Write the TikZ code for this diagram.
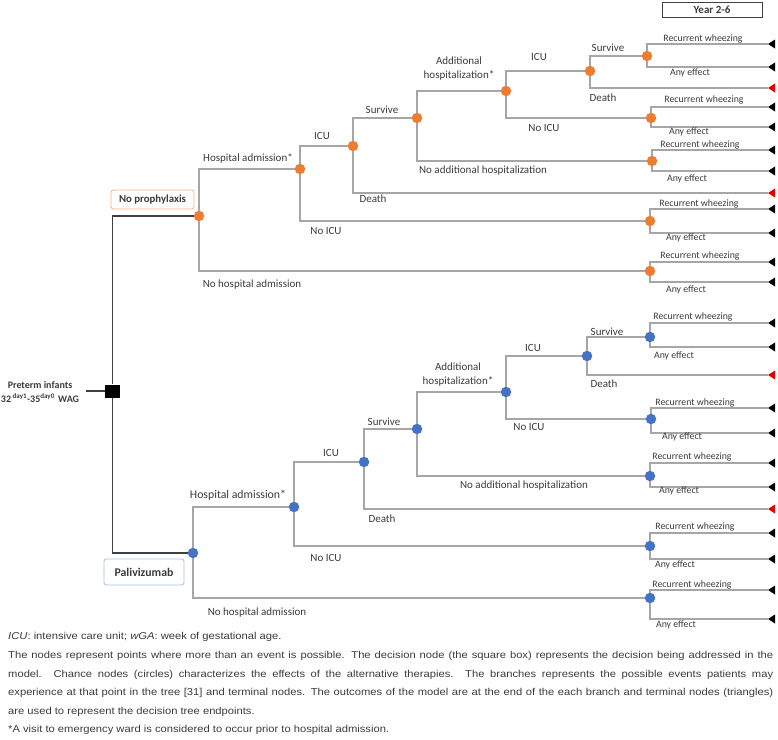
\documentclass[tikz,border=0pt]{standalone}
\usepackage{fontspec}
\setmainfont{Carlito}
\newfontfamily\capfont[FakeStretch=1.12]{Liberation Sans}
\definecolor{org}{HTML}{ED7D31}
\definecolor{blu}{HTML}{4472C4}
\definecolor{lin}{HTML}{A6A6A6}
\definecolor{txt}{HTML}{3B3B3B}
\definecolor{obox}{HTML}{F4B183}
\definecolor{bbox}{HTML}{9DC3E6}
\definecolor{termred}{HTML}{E00000}
\begin{document}
\begin{tikzpicture}[x=1pt,y=-1pt,
  br/.style={draw=lin,line width=1.1pt},
  rootln/.style={draw=black!75,line width=1.1pt},
  chance/.style={circle,minimum size=10.5pt,inner sep=0pt},
  lab/.style={font=\fontsize{11}{14}\selectfont,text=txt,inner sep=0pt,align=center},
  slab/.style={font=\fontsize{9.8}{11}\selectfont,text=txt,inner sep=0pt},
  capl/.style={font=\capfont\fontsize{10}{12}\selectfont,text=txt,inner sep=0pt,anchor=west},
]
\useasboundingbox (0,0) rectangle (778,739);

% Year box
\node[draw=black!75,line width=0.9pt,minimum width=100pt,minimum height=15pt,inner sep=0pt,
  font=\bfseries\fontsize{11}{12}\selectfont,text=txt] (year) at (712,9.5) {Year 2-6};

% decision node and root
\node[fill=black,minimum width=15pt,minimum height=13pt,inner sep=0pt] (D) at (112.5,391) {};
\coordinate (in) at (86,391);
\node[font=\bfseries\fontsize{10}{12}\selectfont,text=txt,inner sep=0pt] (pre1) at (40,385) {Preterm infants};
\node[font=\bfseries\fontsize{10}{12}\selectfont,text=txt,inner sep=0pt] (pre2) at (40,398) {32\,\textsuperscript{day1}-35\textsuperscript{day0}\,\,WAG};

% internal chance nodes
\foreach \n/\x/\y/\c in {A0/199/216/org,A1/300/169/org,A2/353/146/org,A3/417/118/org,A4/506/91/org,A5/590/71/org,
  B0/193/553/blu,B1/294/507/blu,B2/364/462/blu,B3/417/429/blu,B4/506/392/blu,B5/587/356/blu}
  \node[chance,fill=\c] (\n) at (\x,\y) {};

% death terminals
\foreach \n/\y in {dA2/193,dA5/88,dB2/509,dB5/375}{
  \coordinate (\n) at (768,\y);
  \fill[termred] (\n) -- ++(7,-4.5) -- ++(0,9) -- cycle;
}

% leaves
\foreach \n/\x/\y/\r/\a/\rx/\ry/\ax/\ay/\c in {
  a6/647/56/44/67/703/39/690/73/org,
  ani2/651/118/107/127/704/100/689/132/org,
  anah/652/161/150/171/700/145/687/179/org,
  ani/650/221/209/233/699/204/686/238/org,
  anh/650/271/262/282/700/256/686/290/org,
  b6/650/337/323/347/693/317/674/356/blu,
  bni2/651/419/408/433/695/403/682/437/blu,
  bnah/650/476/463/487/692/457/679/491/blu,
  bni/650/546/533/559/695/527/675/565/blu,
  bnh/650/598/590/619/692/585/676/625/blu}{
  \node[chance,fill=\c] (\n) at (\x,\y) {};
  \coordinate (\n r) at (768,\r);
  \coordinate (\n a) at (768,\a);
  \draw[br] (\n) |- (\n r);
  \draw[br] (\n) |- (\n a);
  \fill (\n r) -- ++(7,-4.5) -- ++(0,9) -- cycle;
  \fill (\n a) -- ++(7,-4.5) -- ++(0,9) -- cycle;
  \node[slab] at (\rx,\ry) {Recurrent wheezing};
  \node[slab] at (\ax,\ay) {Any effect};
}

% root connectors
\draw[rootln] (in) -- (D);
\draw[rootln] (D) |- (A0);
\draw[rootln] (D) |- (B0);

% branches
\draw[br] (A0) |- (A1);  \draw[br] (A0) |- (anh);
\draw[br] (A1) |- (A2);  \draw[br] (A1) |- (ani);
\draw[br] (A2) |- (A3);  \draw[br] (A2) |- (dA2);
\draw[br] (A3) |- (A4);  \draw[br] (A3) |- (anah);
\draw[br] (A4) |- (A5);  \draw[br] (A4) |- (ani2);
\draw[br] (A5) |- (a6);  \draw[br] (A5) |- (dA5);
\draw[br] (B0) |- (B1);  \draw[br] (B0) |- (bnh);
\draw[br] (B1) |- (B2);  \draw[br] (B1) |- (bni);
\draw[br] (B2) |- (B3);  \draw[br] (B2) |- (dB2);
\draw[br] (B3) |- (B4);  \draw[br] (B3) |- (bnah);
\draw[br] (B4) |- (B5);  \draw[br] (B4) |- (bni2);
\draw[br] (B5) |- (b6);  \draw[br] (B5) |- (dB5);

% strategy boxes
\node[draw=obox,fill=white,rounded corners=2.5pt,line width=0.8pt,minimum width=83pt,minimum height=19pt,inner sep=0pt,
  font=\bfseries\fontsize{10.8}{12}\selectfont,text=txt] (nop) at (152.5,199.5) {No prophylaxis};
\node[draw=bbox,fill=white,rounded corners=2.5pt,line width=0.8pt,minimum width=80pt,minimum height=26pt,inner sep=0pt,
  font=\bfseries\fontsize{11.8}{13}\selectfont,text=txt] (pal) at (144,572) {Palivizumab};

% labels top
\node[lab] at (248,158) {Hospital admission*};
\node[lab] at (252,285) {No hospital admission};
\node[lab] at (322,136) {ICU};
\node[lab] at (326,231) {No ICU};
\node[lab] at (382,110) {Survive};
\node[lab] at (373,199) {Death};
\node[lab] at (459,69) {Additional\\hospitalization*};
\node[lab] at (483,171) {No additional hospitalization};
\node[lab] at (539,57) {ICU};
\node[lab] at (544,128) {No ICU};
\node[lab] at (608,48) {Survive};
\node[lab] at (603,98) {Death};
% labels bottom
\node[lab,font=\fontsize{11.8}{14}\selectfont] at (238,495) {Hospital admission*};
\node[lab] at (257,613) {No hospital admission};
\node[lab] at (331,453) {ICU};
\node[lab] at (326,558) {No ICU};
\node[lab] at (384,422) {Survive};
\node[lab] at (382,519) {Death};
\node[lab] at (458,374.5) {Additional\\hospitalization*};
\node[lab] at (524,486) {No additional hospitalization};
\node[lab] at (533,348) {ICU};
\node[lab] at (529,427) {No ICU};
\node[lab] at (607,332) {Survive};
\node[lab] at (604,384) {Death};

% caption
\node[capl] (c1) at (8,637) {\textit{ICU}: intensive care unit; \textit{wGA}: week of gestational age.};
\node[capl] (c2) at (8,656) {\makebox[765pt][s]{The nodes represent points where more than an event is possible. The decision node (the square box) represents the decision being addressed in the}};
\node[capl] (c3) at (8,674.5) {\makebox[765pt][s]{model. Chance nodes (circles) characterizes the effects of the alternative therapies. The branches represents the possible events patients may}};
\node[capl] (c4) at (8,693) {\makebox[765pt][s]{experience at that point in the tree [31] and terminal nodes. The outcomes of the model are at the end of the each branch and terminal nodes (triangles)}};
\node[capl] (c5) at (8,711.5) {are used to represent the decision tree endpoints.};
\node[capl] (c6) at (8,730) {*A visit to emergency ward is considered to occur prior to hospital admission.};
\end{tikzpicture}
\end{document}
